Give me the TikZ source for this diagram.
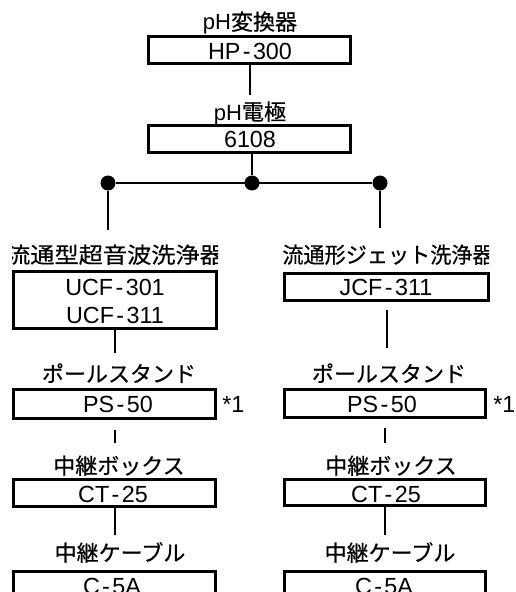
\documentclass[tikz,border=0pt]{standalone}
\usepackage{graphicx}
\usepackage{fontspec}
\setmainfont{Liberation Sans}
\newfontfamily\jpf[FakeBold=0.4]{Noto Sans CJK JP}
\newcommand\hyp{\kern1.8pt-\kern1.8pt}
\newcommand\mkbox[5]{\node[box,minimum width={#4*0.75pt},minimum height={#5*0.75pt}] (#1) at (#2,#3) {};}
\begin{document}
\begin{tikzpicture}[x=0.75pt,y=-0.75pt,
  box/.style={draw,line width=2.25pt,inner sep=0pt,outer sep=0pt},
  conn/.style={line width=1.5pt},
  lbl/.style={anchor=base,inner sep=0pt,text height=12pt,font=\fontsize{16.5pt}{18pt}\selectfont},
  code/.style={anchor=base,inner sep=0pt,font=\fontsize{17.5pt}{20pt}\selectfont},
  jdot/.style={circle,fill=black,inner sep=0pt,minimum size=11.25pt}]
\useasboundingbox (0,0) rectangle (515,592);
\clip (0,0) rectangle (515,592);

% top column
\node[lbl] (t1) at (250,30) {pH\jpf 変換器};
\mkbox{hp}{249.5}{50}{202}{27}
\node[code] (c1) at (250,60) {HP\hyp 300};
\node[lbl] (t2) at (250,120) {pH\jpf 電極};
\mkbox{el}{249.5}{139}{202}{27}
\node[code] (c2) at (250,147) {6108};

% junction
\node[jdot] (jl) at (108,183) {};
\node[jdot] (jc) at (252,183) {};
\node[jdot] (jr) at (380,183) {};
\coordinate (bl) at (108,230);
\coordinate (br) at (380,228);

% left column
\begin{scope}
\clip (12,238) rectangle (218,270);
\node[lbl] (t3) at (115,263) {\scalebox{1.1}[1]{\jpf 流通型超音波洗浄器}};
\end{scope}
\mkbox{ucf}{115}{300}{203}{57}
\node[code] (c3) at (115,295) {UCF\hyp 301};
\node[code] (c4) at (115,323) {UCF\hyp 311};

\node[lbl] (t5) at (119,382) {\jpf ポールスタンド};
\mkbox{psl}{114.5}{404}{202}{29}
\node[code] (c5) at (118,412) {PS\hyp 50};
\node[code,anchor=base west] (n1) at (222,412) {*1};

\node[lbl] (t7) at (119,474) {\jpf 中継ボックス};
\mkbox{ctl}{114.5}{493}{202}{27}
\node[code] (c7) at (113,502) {CT\hyp 25};

\node[lbl] (t9) at (120,561) {\jpf 中継ケーブル};
\mkbox{cl}{114.5}{590}{202}{37}
\node[code] (c9) at (112,594) {C\hyp 5A};

% right column
\begin{scope}
\clip (283,238) rectangle (489,270);
\node[lbl] (t4) at (388,263) {\scalebox{0.96}[1]{\jpf 流通形ジェット洗浄器}};
\end{scope}
\mkbox{jcf}{386.5}{287}{204}{27}
\node[code] (c4r) at (386,295) {JCF\hyp 311};

\node[lbl] (t6) at (389,382) {\jpf ポールスタンド};
\mkbox{psr}{385}{403.5}{201}{28}
\node[code] (c6) at (382,412) {PS\hyp 50};
\node[code,anchor=base west] (n2) at (493,412) {*1};

\node[lbl] (t8) at (391,474) {\jpf 中継ボックス};
\mkbox{ctr}{385}{492.5}{201}{26}
\node[code] (c8) at (386,502) {CT\hyp 25};

\node[lbl] (t10) at (390,561) {\jpf 中継ケーブル};
\mkbox{cr}{385}{590}{201}{37}
\node[code] (c10) at (384,594) {C\hyp 5A};

% connectors
\draw[conn,shorten >=6.75pt] (hp.south) -- (hp.south |- t2.north);
\draw[conn] (el.south -| jc) -- (jc);
\draw[conn] (jl) -- (jr);
\draw[conn] (jl) -- (bl);
\draw[conn] (jr) -- (br);
\draw[conn,shorten >=9.75pt] (ucf.south) -- (ucf.south |- t5.north);
\draw[conn,shorten <=6.75pt,shorten >=13.5pt] (jcf.south) -- (jcf.south |- t6.north);
\draw[conn,shorten <=8.25pt,shorten >=11.25pt] (psl.south) -- (psl.south |- t7.north);
\draw[conn,shorten <=7.5pt,shorten >=11.25pt] (psr.south) -- (psr.south |- t8.north);
\draw[conn,shorten >=7.5pt] (ctl.south) -- (ctl.south |- t9.north);
\draw[conn,shorten >=7.5pt] (ctr.south) -- (ctr.south |- t10.north);
\end{tikzpicture}
\end{document}
